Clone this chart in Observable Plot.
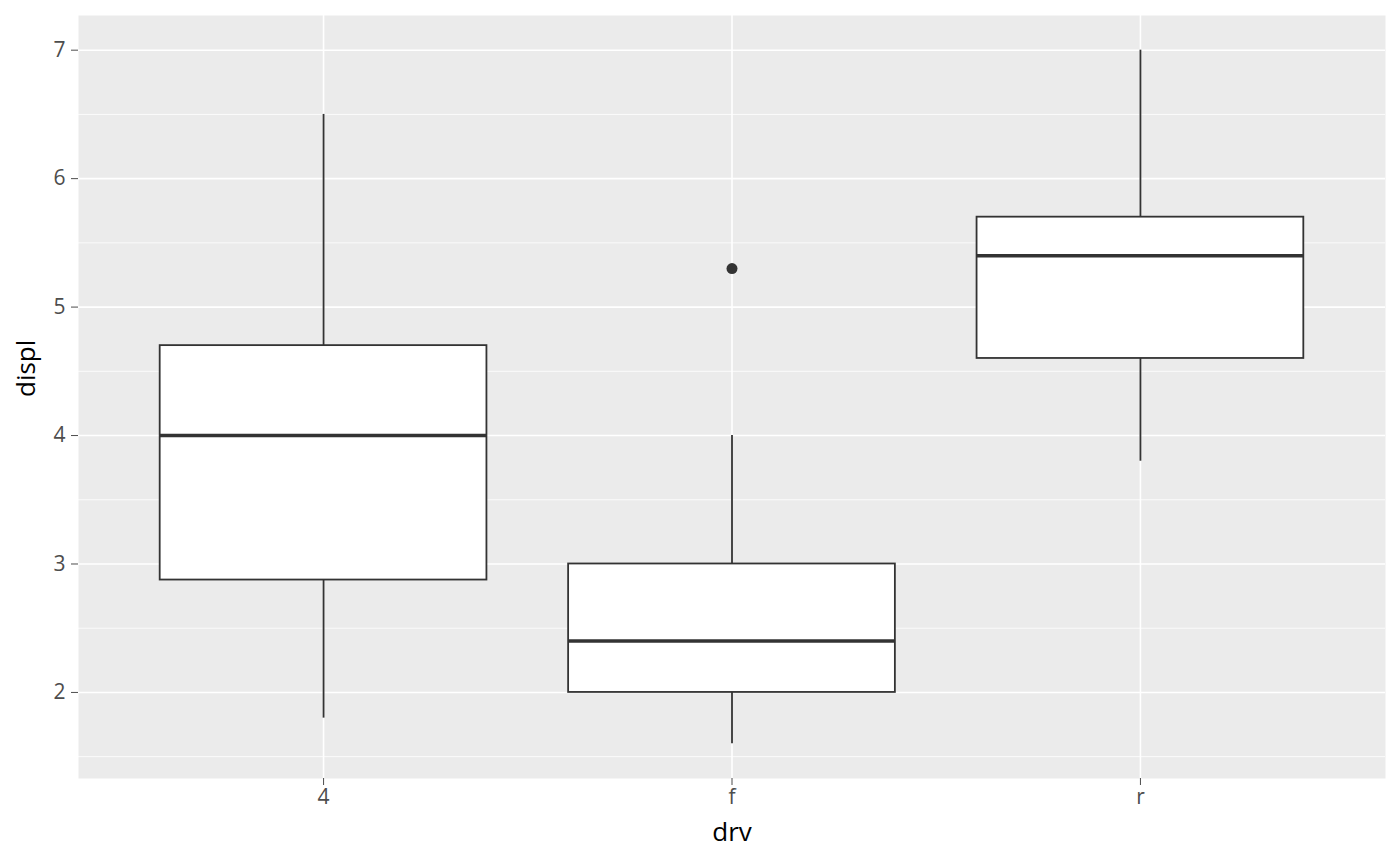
<!DOCTYPE html>
<html>
<head>
<meta charset="utf-8">
<script src="https://cdn.jsdelivr.net/npm/d3@7"></script>
<script src="https://cdn.jsdelivr.net/npm/@observablehq/plot@0.6"></script>
<style>
  html, body { margin: 0; padding: 0; background: white; }
</style>
</head>
<body>
<div id="chart"></div>
<script>
const drv = ["4", "f", "r"];
const whiskerLow = [1.8, 1.6, 3.8];
const q1 = [2.875, 2.0, 4.6];
const median = [4.0, 2.4, 5.4];
const q3 = [4.7, 3.0, 5.7];
const whiskerHigh = [6.5, 4.0, 7.0];
const outlierDrv = ["f"];
const outlierDispl = [5.3];
const yTicks = [2, 3, 4, 5, 6, 7];
const yMinorTicks = [1.5, 2.5, 3.5, 4.5, 5.5, 6.5];

const boxes = drv.map((d, i) => ({
  drv: d, pos: i + 1,
  lo: whiskerLow[i], q1: q1[i], med: median[i], q3: q3[i], hi: whiskerHigh[i]
}));
const outliers = outlierDrv.map((d, i) => ({pos: drv.indexOf(d) + 1, displ: outlierDispl[i]}));
const halfWidth = 0.4;

const chart = Plot.plot({
  width: 1400,
  height: 866,
  marginLeft: 78,
  marginRight: 15,
  marginTop: 15,
  marginBottom: 88,
  style: {fontFamily: "'Open Sans', 'Noto Sans', sans-serif", background: "white"},
  x: {domain: [0.4, 3.6], axis: null},
  y: {domain: [1.33, 7.27], axis: null},
  marks: [
    Plot.frame({fill: "#EBEBEB", stroke: null}),
    Plot.ruleY(yMinorTicks, {stroke: "white", strokeWidth: 0.8}),
    Plot.ruleY(yTicks, {stroke: "white", strokeWidth: 1.6}),
    Plot.ruleX([1, 2, 3], {stroke: "white", strokeWidth: 1.6}),
    Plot.ruleX(boxes, {x: "pos", y1: "lo", y2: "q1", stroke: "#333333", strokeWidth: 1.8}),
    Plot.ruleX(boxes, {x: "pos", y1: "q3", y2: "hi", stroke: "#333333", strokeWidth: 1.8}),
    Plot.rect(boxes, {x1: d => d.pos - halfWidth, x2: d => d.pos + halfWidth, y1: "q1", y2: "q3",
      fill: "white", stroke: "#333333", strokeWidth: 1.8}),
    Plot.ruleY(boxes, {y: "med", x1: d => d.pos - halfWidth, x2: d => d.pos + halfWidth,
      stroke: "#333333", strokeWidth: 3.6}),
    Plot.dot(outliers, {x: "pos", y: "displ", r: 5.5, fill: "#333333", stroke: null}),
    Plot.axisY(yTicks, {tickSize: 7, tickPadding: 6, fontSize: 21, color: "#4D4D4D", label: null,
      tickFormat: d => String(d)}),
    Plot.axisX([1, 2, 3], {tickSize: 7, tickPadding: 4, fontSize: 21, color: "#4D4D4D", label: null,
      tickFormat: d => drv[d - 1]}),
    Plot.text(["drv"], {frameAnchor: "bottom", dy: 62, fontSize: 26, fill: "black"}),
    Plot.text(["displ"], {frameAnchor: "left", dx: -52, rotate: -90, fontSize: 26, fill: "black"})
  ]
});
document.getElementById("chart").appendChild(chart);
</script>
</body>
</html>
